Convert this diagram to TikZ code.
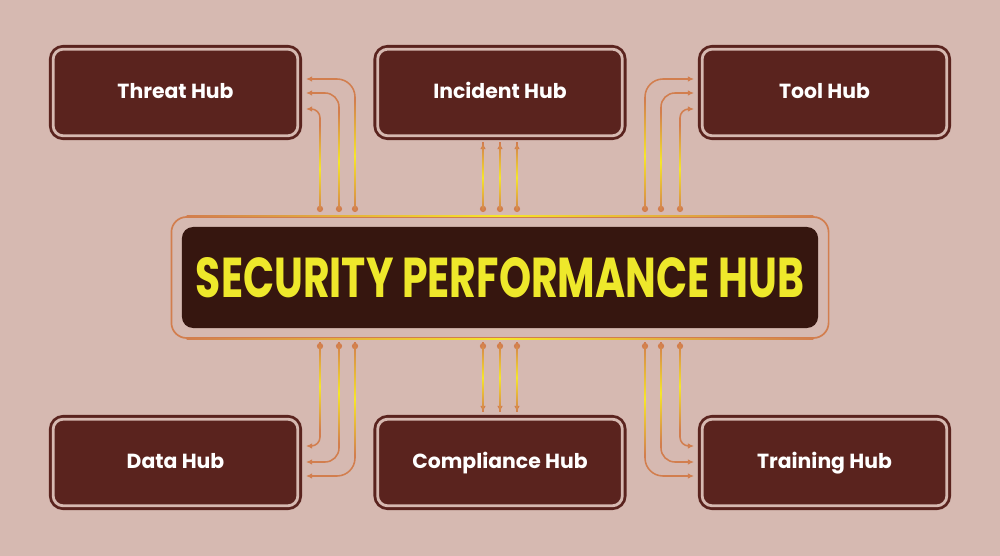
\documentclass[tikz,border=0pt]{standalone}
\usepackage{fontspec}
\setmainfont{Poppins}
\usepackage{graphicx}
\usetikzlibrary{arrows.meta,calc}

\definecolor{bgcol}{HTML}{D6B9B1}
\definecolor{hubfill}{HTML}{5A231E}
\definecolor{corefill}{HTML}{36160F}
\definecolor{titleyel}{HTML}{EEE82B}
\definecolor{wireor}{HTML}{D27E4E}
\definecolor{wireyel}{HTML}{F6E62A}

\tikzset{
  hub/.style={fill=hubfill, draw=hubfill, double=bgcol, double distance=0.07cm,
    line width=0.07cm, rounded corners=0.25cm, minimum width=6.115cm,
    minimum height=2.165cm, text=white, text height=1.6ex, text depth=0ex,
    font=\bfseries\fontsize{14.5}{17}\selectfont},
  wire/.style={wireor, line width=1.1pt, {Circle[length=4.4pt]}-{Latex[length=4.4pt,width=4pt]}},
  glow/.style={top color=wireor, bottom color=wireor, middle color=wireyel},
  hglow/.style={left color=wireor, right color=wireor, middle color=wireyel},
}

\begin{document}
\begin{tikzpicture}[x=0.025cm, y=-0.025cm]
\fill[bgcol] (0,0) rectangle (1000,556);

% hubs
\node[hub] (threat) at (175.5,92.5) {Threat Hub};
\node[hub] (incident) at (500,92.5) {Incident Hub};
\node[hub] (tool) at (824.5,92.5) {Tool Hub};
\node[hub] (data) at (175.5,462.5) {Data Hub};
\node[hub] (compliance) at (500,462.5) {Compliance Hub};
\node[hub] (training) at (824.5,462.5) {Training Hub};

% central hub
\node[draw=wireor, line width=1.2pt, rounded corners=0.38cm, minimum width=16.425cm,
  minimum height=3.025cm] (frame) at (500,277.5) {};
\shade[hglow] ([xshift=0.4cm,yshift=0.6pt]frame.north west) rectangle ([xshift=-0.4cm,yshift=-0.6pt]frame.north east);
\shade[hglow] ([xshift=0.4cm,yshift=0.6pt]frame.south west) rectangle ([xshift=-0.4cm,yshift=-0.6pt]frame.south east);
\node[fill=corefill, rounded corners=0.28cm, minimum width=15.9cm, minimum height=2.525cm,
  text=titleyel] (core) at (500,277.5) {\resizebox{15.2cm}{1cm}{\bfseries SECURITY PERFORMANCE HUB}};

% bent wires
\foreach \dx/\dy/\tx/\ty/\rr in {320/212/306/109/0.22cm, 339/212/306/93/0.35cm, 355/212/306/79/0.45cm,
    680/212/694/109/0.22cm, 661/212/694/93/0.35cm, 645/212/694/79/0.45cm,
    320/343/306/446/0.22cm, 339/343/306/462/0.35cm, 355/343/306/476/0.45cm,
    680/343/694/446/0.22cm, 661/343/694/462/0.35cm, 645/343/694/476/0.45cm}{
  \coordinate (ws) at (\dx,\dy);
  \coordinate (we) at (\tx,\ty);
  \draw[wire, rounded corners=\rr] (ws) |- (we);
  \shade[glow] ([xshift=-0.55pt]ws) rectangle ([xshift=0.55pt]$(ws)!0.84!(ws |- we)$);
}

% straight wires
\foreach \dx in {483,500,517}{
  \coordinate (ws) at (\dx,212);
  \coordinate (we) at (\dx,143);
  \draw[wire] (ws) -- (we);
  \shade[glow] ([xshift=-0.55pt]ws) rectangle ([xshift=0.55pt]we);
  \coordinate (ws) at (\dx,343);
  \coordinate (we) at (\dx,412);
  \draw[wire] (ws) -- (we);
  \shade[glow] ([xshift=-0.55pt]ws) rectangle ([xshift=0.55pt]we);
}

\end{tikzpicture}
\end{document}
